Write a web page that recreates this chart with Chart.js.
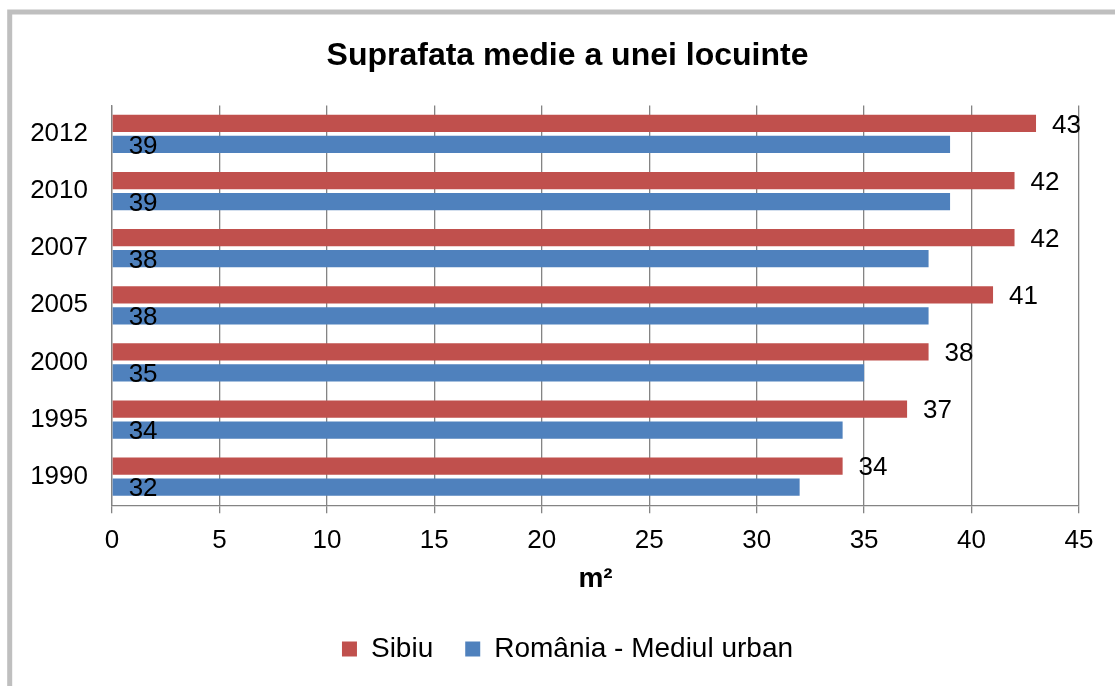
<!DOCTYPE html>
<html>
<head>
<meta charset="utf-8">
<script src="https://cdn.jsdelivr.net/npm/chart.js@4/dist/chart.umd.min.js"></script>
<style>
  html, body { margin: 0; padding: 0; background: #fff; overflow: hidden; }
  #wrap { position: relative; width: 1115px; height: 686px; }
</style>
</head>
<body>
<div id="wrap"><canvas id="c" width="1115" height="686"></canvas></div>
<script>
const categories = ['2012', '2010', '2007', '2005', '2000', '1995', '1990'];
const sibiu = [43, 42, 42, 41, 38, 37, 34];
const romania = [39, 39, 38, 38, 35, 34, 32];
const xTicks = [0, 5, 10, 15, 20, 25, 30, 35, 40, 45];
const titleText = 'Suprafata medie a unei locuinte';
const xAxisTitle = 'm²';
const seriesNames = ['Sibiu', 'România - Mediul urban'];

const FONT = '"Liberation Sans", Arial, sans-serif';

const frame = {
  id: 'frame',
  beforeDraw(chart) {
    const ctx = chart.ctx;
    ctx.save();
    ctx.fillStyle = '#fff';
    ctx.fillRect(0, 0, chart.width, chart.height);
    ctx.strokeStyle = '#bfbfbf';
    ctx.lineWidth = 5;
    ctx.strokeRect(9.7, 12, 1400, 1000);
    ctx.restore();
  }
};

const valueLabels = {
  id: 'valueLabels',
  afterDatasetsDraw(chart) {
    const ctx = chart.ctx;
    ctx.save();
    ctx.font = '26px ' + FONT;
    ctx.fillStyle = '#000';
    ctx.textBaseline = 'middle';
    ctx.textAlign = 'left';
    chart.data.datasets.forEach((ds, di) => {
      const meta = chart.getDatasetMeta(di);
      meta.data.forEach((bar, i) => {
        const v = ds.data[i];
        if (di === 0) {
          ctx.fillText(String(v), bar.x + 16, bar.y + 2);
        } else {
          ctx.fillText(String(v), bar.base + 16, bar.y + 2);
        }
      });
    });
    ctx.restore();
  }
};

new Chart(document.getElementById('c'), {
  type: 'bar',
  data: {
    labels: categories,
    datasets: [
      { label: seriesNames[0], data: sibiu, backgroundColor: '#C0504D', borderWidth: 0, yAxisID: 'y' },
      { label: seriesNames[1], data: romania, backgroundColor: '#4F81BD', borderWidth: 0, yAxisID: 'y' }
    ]
  },
  options: {
    indexAxis: 'y',
    responsive: false,
    animation: false,
    devicePixelRatio: 1,
    categoryPercentage: 0.737,
    barPercentage: 0.82,
    layout: { padding: { left: 20, right: 0, top: 20, bottom: 13 } },
    scales: {
      x: {
        min: 0, max: 45,
        afterBuildTicks(scale) { scale.ticks = xTicks.map(v => ({ value: v })); },
        grid: { color: '#848484', lineWidth: 1.3, drawTicks: true, tickLength: 8 },
        border: { display: true, color: '#848484', width: 1.3 },
        ticks: { font: { family: FONT, size: 26 }, color: '#000', padding: 12, maxRotation: 0 },
        title: { display: true, text: xAxisTitle, font: { family: FONT, size: 28, weight: 'bold' }, color: '#000', padding: { top: -6, bottom: 7 } }
      },
      y: {
        afterFit(scale) { scale.width = 92; },
        grid: { display: false, drawTicks: false },
        border: { display: true, color: '#848484', width: 1.3 },
        ticks: { font: { family: FONT, size: 26 }, color: '#000', padding: 24 }
      },
      yPad: {
        type: 'category',
        position: 'right',
        afterFit(scale) { scale.width = 36; },
        grid: { display: false, drawTicks: false },
        border: { display: false },
        ticks: { display: false }
      }
    },
    plugins: {
      title: { display: true, text: titleText, font: { family: FONT, size: 32, weight: 'bold' }, color: '#000', padding: { top: 17, bottom: 30 } },
      legend: {
        position: 'bottom',
        labels: { font: { family: FONT, size: 28 }, color: '#000', boxWidth: 15, boxHeight: 15, padding: 32 }
      },
      tooltip: { enabled: false }
    }
  },
  plugins: [frame, valueLabels]
});
</script>
</body>
</html>
